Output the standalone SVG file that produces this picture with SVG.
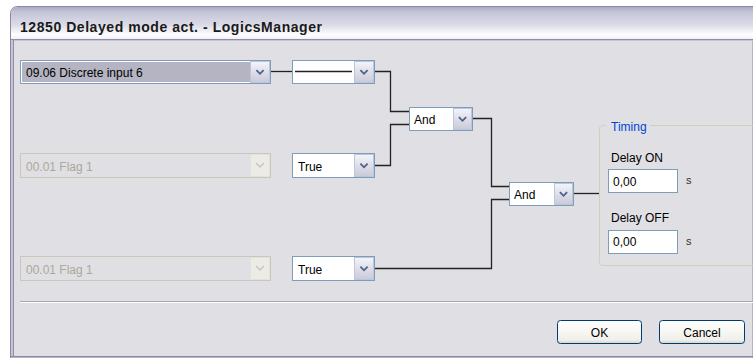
<svg xmlns="http://www.w3.org/2000/svg" width="753" height="358" viewBox="0 0 753 358">
<defs>
<linearGradient id="title" x1="0" y1="0" x2="0" y2="1">
<stop offset="0" stop-color="#a9a9c3"/>
<stop offset="0.15" stop-color="#c4c4d8"/>
<stop offset="0.55" stop-color="#dcdce8"/>
<stop offset="0.85" stop-color="#ffffff"/>
<stop offset="1" stop-color="#ececf2"/>
</linearGradient>
<linearGradient id="btn" x1="0" y1="0" x2="0" y2="1">
<stop offset="0" stop-color="#f4f4fb"/>
<stop offset="1" stop-color="#c9c9d9"/>
</linearGradient>
<linearGradient id="pbtn" x1="0" y1="0" x2="0" y2="1">
<stop offset="0" stop-color="#ffffff"/>
<stop offset="0.85" stop-color="#f0f0ea"/>
<stop offset="1" stop-color="#d6d0c5"/>
</linearGradient>
<symbol id="chev" viewBox="0 0 10 6" overflow="visible">
<path d="M1,1 L5,5 L9,1" fill="none" stroke="#4d6185" stroke-width="2"/>
</symbol>
</defs>
<style>
text{font-family:"Liberation Sans",Arial,sans-serif;font-size:12px;fill:#000}
.box{fill:#fff;stroke:#7f9db9;stroke-width:1}
.dis{fill:#e0dfe3;stroke:#c9c7ba;stroke-width:1}
.dbtn{fill:#ecebe6;stroke:#e3e2dc;stroke-width:1}
.cbtn{fill:url(#btn);stroke:#b9c6dd;stroke-width:1}
.dtext{fill:#aca899}
.wire{fill:none;stroke:#222;stroke-width:1.3}
.pb{fill:url(#pbtn);stroke:#003c74;stroke-width:1}
</style>
<rect x="0" y="0" width="753" height="358" fill="#ffffff"/>
<g id="window">
<path d="M10.5,358 L10.5,14 Q10.5,6.5 18,6.5 L753,6.5 L753,358 Z" fill="#e0dfe3" stroke="#8a8aa6" stroke-width="1"/>
<path d="M11,40 L11,14 Q11,7 18,7 L753,7 L753,40 Z" fill="url(#title)"/>
<line x1="11" y1="39.5" x2="753" y2="39.5" stroke="#8e8ea8" stroke-width="1"/>
<line x1="11" y1="40.5" x2="753" y2="40.5" stroke="#c4c4d4" stroke-width="1"/>
<line x1="12" y1="40" x2="12" y2="356" stroke="#c4c4d6" stroke-width="2"/>
<line x1="13.5" y1="40" x2="13.5" y2="356" stroke="#8e8ea8" stroke-width="1"/>
<line x1="10" y1="356.5" x2="753" y2="356.5" stroke="#8a8aa6" stroke-width="1"/>
<text x="20" y="31.5" style="font-size:14px;font-weight:bold;fill:#1a1a1a" textLength="302" lengthAdjust="spacing">12850 Delayed mode act. - LogicsManager</text>
</g>
<g id="connectors">
<polyline class="wire" points="270,71.5 292,71.5"/>
<polyline class="wire" points="374,71.5 390.5,71.5 390.5,111.5 409,111.5"/>
<polyline class="wire" points="374,165.5 390.5,165.5 390.5,124.5 409,124.5"/>
<polyline class="wire" points="472,118.5 491.5,118.5 491.5,186.5 509,186.5"/>
<polyline class="wire" points="374,268.5 491.5,268.5 491.5,199.5 509,199.5"/>
<polyline class="wire" points="573,193.5 599.5,193.5"/>
</g>
<g id="input1">
<rect class="box" x="20.5" y="60.5" width="250" height="23"/>
<rect x="22" y="62" width="228" height="20" fill="#b4b4c2"/>
<rect class="cbtn" x="250.5" y="61.5" width="19" height="21"/>
<use href="#chev" x="255.5" y="69" width="9" height="6"/>
<text x="26" y="77">09.06 Discrete input 6</text>
</g>
<g id="op1">
<rect class="box" x="292.5" y="60.5" width="82" height="23"/>
<line x1="295" y1="71.5" x2="352" y2="71.5" stroke="#222" stroke-width="1.3"/>
<rect class="cbtn" x="354.5" y="61.5" width="19" height="21"/>
<use href="#chev" x="359.5" y="69" width="9" height="6"/>
</g>
<g id="input2">
<rect class="dis" x="20.5" y="153.5" width="250" height="24"/>
<rect class="dbtn" x="250.5" y="154.5" width="19" height="22"/>
<path d="M256,163 L260,167 L264,163" fill="none" stroke="#c9c7ba" stroke-width="1.5"/>
<text class="dtext" x="26" y="170.5">00.01 Flag 1</text>
</g>
<g id="op2">
<rect class="box" x="292.5" y="153.5" width="82" height="24"/>
<rect class="cbtn" x="354.5" y="154.5" width="19" height="22"/>
<use href="#chev" x="359.5" y="162.5" width="9" height="6"/>
<text x="298" y="170.5">True</text>
</g>
<g id="input3">
<rect class="dis" x="20.5" y="256.5" width="250" height="24"/>
<rect class="dbtn" x="250.5" y="257.5" width="19" height="22"/>
<path d="M256,266 L260,270 L264,266" fill="none" stroke="#c9c7ba" stroke-width="1.5"/>
<text class="dtext" x="26" y="273.5">00.01 Flag 1</text>
</g>
<g id="op3">
<rect class="box" x="292.5" y="256.5" width="82" height="24"/>
<rect class="cbtn" x="354.5" y="257.5" width="19" height="22"/>
<use href="#chev" x="359.5" y="265.5" width="9" height="6"/>
<text x="298" y="273.5">True</text>
</g>
<g id="and1">
<rect class="box" x="409.5" y="107.5" width="63" height="23"/>
<rect class="cbtn" x="453.5" y="108.5" width="18" height="21"/>
<use href="#chev" x="458" y="116" width="9" height="6"/>
<text x="414" y="124">And</text>
</g>
<g id="and2">
<rect class="box" x="509.5" y="182.5" width="64" height="23"/>
<rect class="cbtn" x="554.5" y="183.5" width="18" height="21"/>
<use href="#chev" x="559" y="191" width="9" height="6"/>
<text x="514" y="199">And</text>
</g>
<g id="timing">
<rect x="599.5" y="125.5" width="200" height="140" rx="3" fill="none" stroke="#d0d0bf" stroke-width="1"/>
<rect x="606" y="120" width="44" height="10" fill="#e0dfe3"/>
<text x="611" y="131" style="fill:#0046d5">Timing</text>
<text x="611" y="162">Delay ON</text>
<rect class="box" x="608.5" y="169.5" width="69" height="23"/>
<text x="613" y="185.5">0,00</text>
<text x="686" y="184" style="font-size:11px;fill:#333">s</text>
<text x="611" y="222">Delay OFF</text>
<rect class="box" x="608.5" y="230.5" width="69" height="23"/>
<text x="613" y="246">0,00</text>
<text x="686" y="245" style="font-size:11px;fill:#333">s</text>
</g>
<g id="footer">
<line x1="20" y1="301.5" x2="753" y2="301.5" stroke="#a7a6aa" stroke-width="1"/>
<line x1="20" y1="302.5" x2="753" y2="302.5" stroke="#ffffff" stroke-width="1"/>
</g>
<g id="ok">
<rect class="pb" x="557.5" y="320.5" width="84" height="23" rx="3"/>
<text x="599.5" y="336.5" text-anchor="middle">OK</text>
</g>
<g id="cancel">
<rect class="pb" x="659.5" y="320.5" width="85" height="23" rx="3"/>
<text x="702" y="336.5" text-anchor="middle">Cancel</text>
</g>
</svg>
